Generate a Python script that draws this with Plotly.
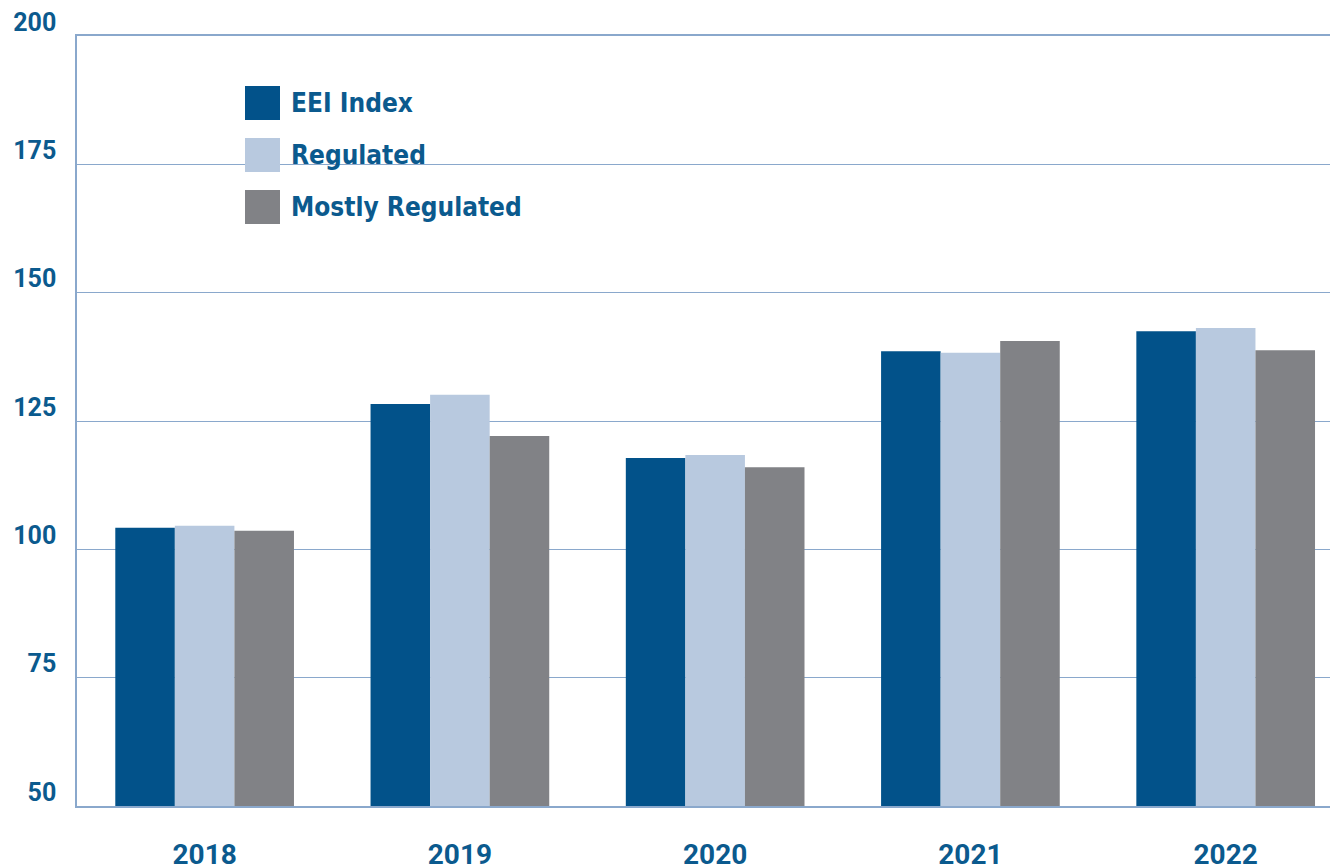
import plotly.graph_objects as go

years = ["2018", "2019", "2020", "2021", "2022"]
eei = [104.2, 128.3, 117.8, 138.6, 142.5]
regulated = [104.6, 130.1, 118.4, 138.3, 143.1]
mostly = [103.6, 122.1, 116.0, 140.6, 138.8]
series_names = ["EEI Index", "Regulated", "Mostly Regulated"]
colors = ["#02528A", "#B8C9DF", "#818286"]
y_ticks = [50, 75, 100, 125, 150, 175, 200]

TEXT = "#0B5A8E"
GRID = "#8AA8CC"

# page body has an 8px default margin; compensate so the plot lands where the reference has it
OFF = 8
PL, PT, PB = 77, 36, 806  # plot left/top/bottom in window pixels
PW, PH = 1338 - PL, PB - PT

fig = go.Figure()
for name, vals, c in zip(series_names, [eei, regulated, mostly], colors):
    fig.add_trace(go.Bar(x=years, y=vals, name=name, marker=dict(color=c, line=dict(width=0))))

fig.update_layout(
    width=1338 - OFF, height=867 - OFF,
    margin=dict(l=PL - OFF, r=0, t=PT - OFF, b=867 - PB),
    paper_bgcolor="white", plot_bgcolor="white",
    barmode="group", bargap=0.30, bargroupgap=0,
    showlegend=False,
    xaxis=dict(
        type="category", range=[-0.5, 4.44], automargin=False,
        showgrid=False, showline=True, mirror=True, linecolor=GRID, linewidth=1.5,
        ticks="", ticklabelstandoff=23, ticklabeloverflow="allow",
        tickfont=dict(family="Roboto", size=28, color=TEXT, weight=700),
    ),
    yaxis=dict(
        range=[50, 200], tickvals=y_ticks, ticktext=[str(v) for v in y_ticks],
        automargin=False,
        showgrid=True, gridcolor=GRID, gridwidth=1.3,
        showline=True, linecolor=GRID, linewidth=1.5,
        zeroline=False, ticks="", ticklabelstandoff=14, ticklabelshift=-14,
        ticklabeloverflow="allow",
        tickfont=dict(family="Roboto", size=25, color=TEXT, weight=700),
    ),
)

def px_x(px):
    return (px - PL) / PW

def px_y(py):
    return (PB - py) / PH

# white box behind legend (cuts the 175 gridline)
fig.add_shape(type="rect", xref="paper", yref="paper", x0=px_x(190), x1=px_x(568), y0=px_y(240), y1=px_y(60),
              fillcolor="white", line=dict(width=0), layer="between")

sq_top = [86, 138, 190]
for i, (name, c) in enumerate(zip(series_names, colors)):
    top = sq_top[i]
    fig.add_shape(type="rect", xref="paper", yref="paper",
                  x0=px_x(245), x1=px_x(280), y0=px_y(top + 34), y1=px_y(top),
                  fillcolor=c, line=dict(width=0), layer="above")
    fig.add_annotation(xref="paper", yref="paper", x=px_x(289), y=px_y(top + 17),
                       xanchor="left", yanchor="middle", showarrow=False, text=name,
                       font=dict(family="Liberation Sans Narrow, DejaVu Sans Condensed, Roboto Condensed", size=26,
                                 color=TEXT, weight=700))

fig.write_html("out.html")
